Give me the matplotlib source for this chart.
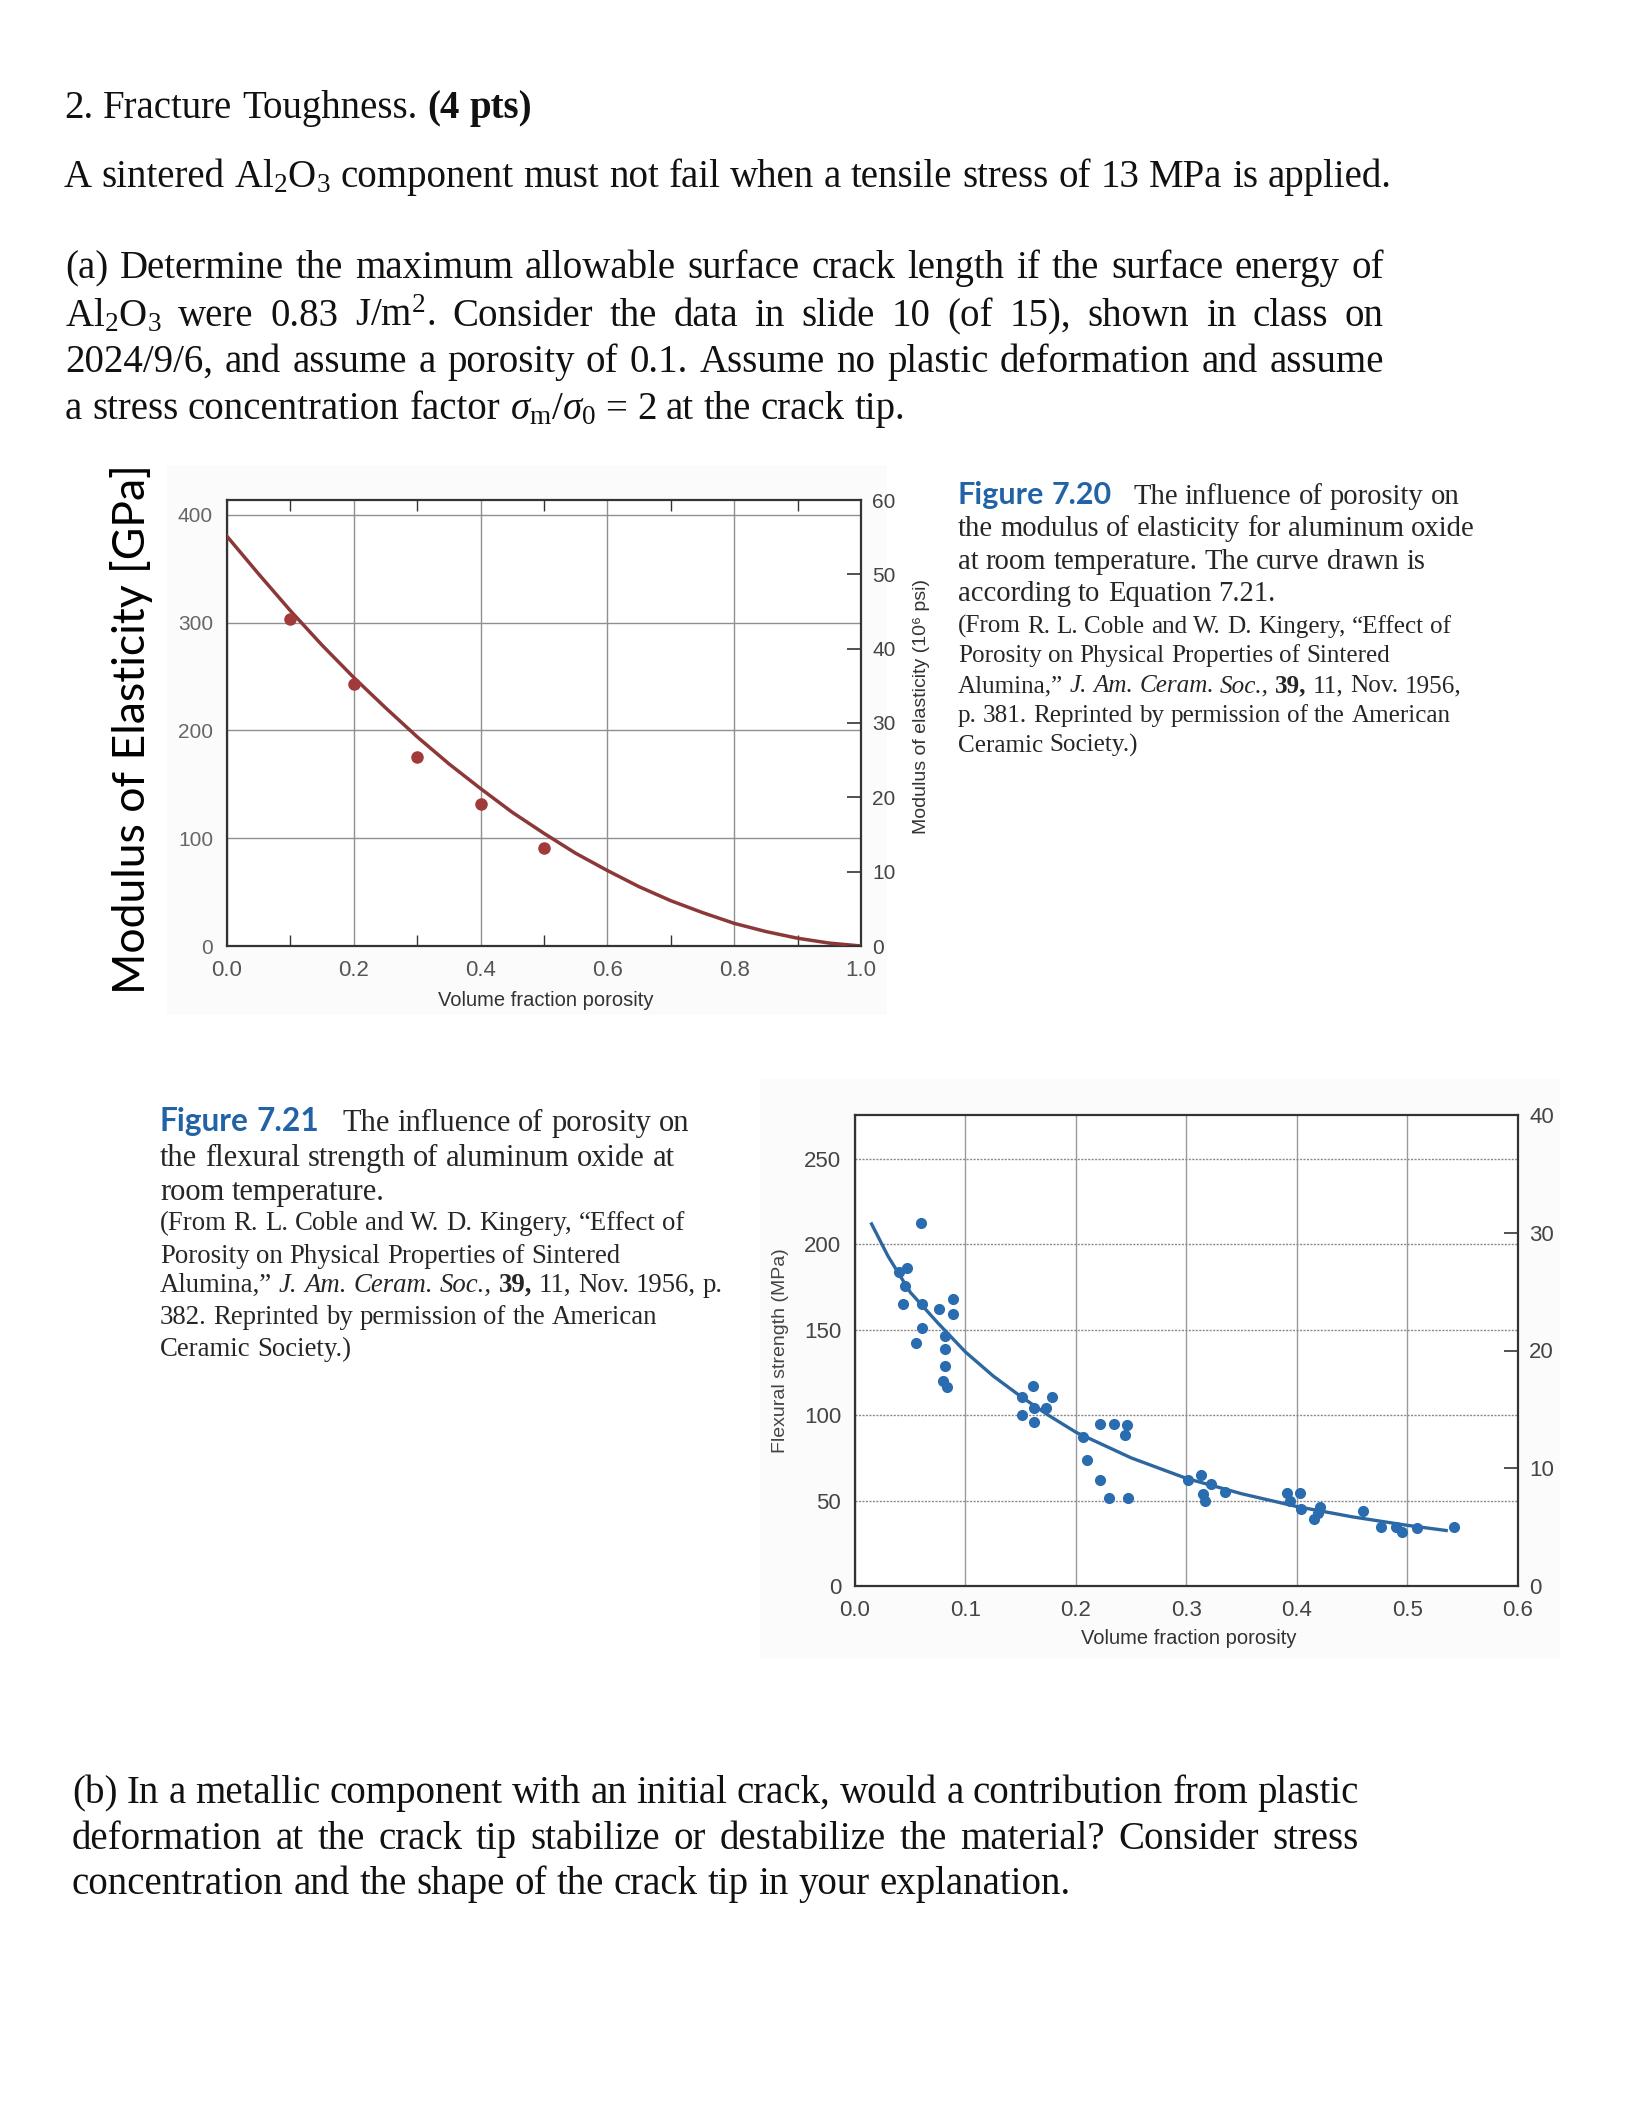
import numpy as np
import matplotlib
matplotlib.use("Agg")
import matplotlib.pyplot as plt

plt.rcParams['font.family'] = ['Liberation Sans', 'DejaVu Sans']
plt.rcParams['mathtext.fontset'] = 'custom'
plt.rcParams['mathtext.rm'] = 'Liberation Serif'
plt.rcParams['mathtext.it'] = 'Liberation Serif:italic'
plt.rcParams['mathtext.bf'] = 'Liberation Serif:bold'

# --- data ---
# Fig 7.20: modulus of elasticity vs porosity
e_porosity = [0.1, 0.2, 0.3, 0.4, 0.5]
e_modulus = [303, 243, 175, 132, 91]
e_curve_p = [0.0, 0.05, 0.1, 0.15, 0.2, 0.25, 0.3, 0.35, 0.4, 0.45, 0.5,
             0.55, 0.6, 0.65, 0.7, 0.75, 0.8, 0.85, 0.9, 0.95, 1.0]
e_curve_v = [380, 345, 311, 279, 249, 221, 194, 169, 146, 124, 104.5,
             86, 70, 55, 42, 31, 21, 13.4, 7.2, 2.7, 0]

# Fig 7.21: flexural strength vs porosity
s_porosity = [0.060, 0.040, 0.047, 0.045, 0.043, 0.061, 0.061, 0.055, 0.076, 0.089,
              0.089, 0.081, 0.081, 0.081, 0.080, 0.083, 0.151, 0.161, 0.178, 0.162,
              0.173, 0.151, 0.162, 0.206, 0.222, 0.234, 0.246, 0.244, 0.210, 0.222,
              0.230, 0.247, 0.301, 0.313, 0.322, 0.315, 0.317, 0.335, 0.391, 0.403,
              0.394, 0.404, 0.421, 0.419, 0.415, 0.460, 0.476, 0.490, 0.495, 0.509,
              0.542]
s_strength = [212.7, 184, 186, 175.5, 165, 165, 151, 142, 162, 168,
              159, 146.5, 139, 129, 120, 116.5, 110.7, 117, 110.5, 104.5,
              104.5, 100.4, 96, 87.5, 95, 95, 94.4, 88.2, 73.7, 62,
              51.4, 51.4, 62, 64.8, 60, 53.7, 49.7, 55, 54.6, 54.6,
              49.9, 45.2, 46.3, 43, 39.2, 44, 34.5, 34.5, 31.8, 33.9,
              34.5]
s_curve_p = [0.015, 0.03, 0.05, 0.075, 0.1, 0.125, 0.15, 0.175, 0.2, 0.25,
             0.3, 0.35, 0.4, 0.45, 0.5, 0.535]
s_curve_v = [212, 193, 172, 154, 137, 123, 111, 100, 90, 75,
             63, 54, 46.5, 40.5, 35.5, 32.5]

# --- page text ---
title_line = "2. Fracture Toughness. *(4 *pts)"
intro_line = "A sintered Al$_2$O$_3$ component must not fail when a tensile stress of 13 MPa is applied."
part_a = ["(a) Determine the maximum allowable surface crack length if the surface energy of",
          "Al$_2$O$_3$ were 0.83 J/m$^2$. Consider the data in slide 10 (of 15), shown in class on",
          "2024/9/6, and assume a porosity of 0.1. Assume no plastic deformation and assume",
          r"a stress concentration factor $\sigma_\mathrm{m}/\sigma_0$ = 2 at the crack tip."]
part_b = ["(b) In a metallic component with an initial crack, would a contribution from plastic",
          "deformation at the crack tip stabilize or destabilize the material? Consider stress",
          "concentration and the shape of the crack tip in your explanation."]
cap_720 = ["#Figure #7.20 ~ The influence of porosity on",
           "the modulus of elasticity for aluminum oxide",
           "at room temperature. The curve drawn is",
           "according to Equation 7.21.",
           "(From R. L. Coble and W. D. Kingery, \u201cEffect of",
           "Porosity on Physical Properties of Sintered",
           "Alumina,\u201d _J. _Am. _Ceram. _Soc., *39, 11, Nov. 1956,",
           "p. 381. Reprinted by permission of the American",
           "Ceramic Society.)"]
cap_721 = ["#Figure #7.21 ~ The influence of porosity on",
           "the flexural strength of aluminum oxide at",
           "room temperature.",
           "(From R. L. Coble and W. D. Kingery, \u201cEffect of",
           "Porosity on Physical Properties of Sintered",
           "Alumina,\u201d _J. _Am. _Ceram. _Soc., *39, 11, Nov. 1956, p.",
           "382. Reprinted by permission of the American",
           "Ceramic Society.)"]

W, H = 1640, 2128
fig = plt.figure(figsize=(W / 100, H / 100), dpi=100, facecolor='white')
bg = fig.add_axes([0, 0, 1, 1], zorder=-1)
bg.axis('off')
rend = fig.canvas.get_renderer()

# scanned picture backgrounds
bg.add_patch(plt.Rectangle((167, 465), 720, 550, color='#fbfbfb', lw=0))
bg.imshow(np.linspace(0.85, 0.975, 50)[None, :], extent=[167, 215, 1015, 465],
          cmap='gray', vmin=0, vmax=1, aspect='auto')
bg.add_patch(plt.Rectangle((760, 1079), 800, 580, color='#fbfbfb', lw=0))
bg.imshow(np.linspace(0.98, 0.9, 30)[None, :], extent=[1530, 1560, 1659, 1079],
          cmap='gray', vmin=0, vmax=1, aspect='auto')
bg.set_xlim(0, W)
bg.set_ylim(H, 0)

BLUE = '#2263a8'


def put_line(line, x, y, size, right=None, color='#111111', label_size=None):
    items = []
    extra = 0
    for w in line.split(' '):
        if w == '~':
            extra += 0.5 * size * 100 / 72
            continue
        kw = dict(family=['Liberation Serif', 'DejaVu Serif'], size=size, color=color)
        if w[0] == '*':
            w = w[1:]
            kw['weight'] = 'bold'
        elif w[0] == '_':
            w = w[1:]
            kw['style'] = 'italic'
        elif w[0] == '#':
            w = w[1:]
            kw.update(family='Lato', weight='bold', color=BLUE, size=label_size or size)
        t = bg.text(0, y, w, va='baseline', ha='left', **kw)
        items.append((t, t.get_window_extent(rend).width, extra))
        extra = 0
    gap = 0.25 * size * 100 / 72
    if right is not None and len(items) > 1:
        used = sum(i[1] + i[2] for i in items)
        gap = (right - x - used) / (len(items) - 1)
    pos = x
    for t, wd, ex in items:
        pos += ex
        t.set_x(pos)
        pos += wd + gap


# heading and questions
BODY = 28
put_line(title_line, 64, 118, BODY)
put_line(intro_line, 64, 187, BODY)
a_y = [278, 326, 372, 419]
for i, ln in enumerate(part_a):
    put_line(ln, 65, a_y[i], BODY, right=1384 if i < 3 else None)
b_y = [1803, 1849, 1894]
for i, ln in enumerate(part_b):
    put_line(ln, 72, b_y[i], BODY, right=1359 if i < 2 else None)

# captions
c1_y = [504, 536, 569, 601, 633, 662, 692, 722, 752]
for i, ln in enumerate(cap_720):
    put_line(ln, 958, c1_y[i], 20.6 if i < 4 else 18.1, color='#262626', label_size=22)
c2_y = [1131, 1166, 1200, 1230, 1263, 1292, 1324, 1356]
for i, ln in enumerate(cap_721):
    put_line(ln, 160, c2_y[i], 22 if i < 3 else 19.3, color='#262626', label_size=22.8)

# ---------------- Figure 7.20 ----------------
ax1 = fig.add_axes([227 / W, 1 - 946 / H, 634 / W, 446 / H], zorder=2)
ax1.plot(e_curve_p, e_curve_v, color='#8c3838', lw=2.5, zorder=3)
ax1.plot(e_porosity, e_modulus, 'o', color='#a23a3a', ms=8, zorder=4)
ax1.set_xlim(0, 1)
ax1.set_ylim(0, 60 * 6.895)
ax1.set_xticks([0, 0.2, 0.4, 0.6, 0.8, 1.0])
ax1.set_xticklabels(['0.0', '0.2', '0.4', '0.6', '0.8', '1.0'])
ax1.set_xticks([0.1, 0.3, 0.5, 0.7, 0.9], minor=True)
ax1.set_yticks([0, 100, 200, 300, 400])
ax1.set_axisbelow(True)
ax1.grid(True, which='major', color='#8f8f8f', lw=1.0)
ax1.tick_params(axis='both', which='major', length=0, pad=10)
ax1.tick_params(axis='x', labelsize=16, labelcolor='#555555')
ax1.tick_params(axis='y', labelsize=15, labelcolor='#666666')
ax1.tick_params(axis='x', which='minor', direction='in', length=8, width=1,
                top=True, color='#333333')
for s in ax1.spines.values():
    s.set_color('#333333')
    s.set_linewidth(1.6)
ax1r = ax1.twinx()
ax1r.set_ylim(0, 60)
ax1r.set_yticks([0, 10, 20, 30, 40, 50, 60])
ax1r.tick_params(direction='in', length=10, width=1.2, labelsize=15,
                 labelcolor='#444444', pad=8, color='#333333')
for s in ax1r.spines.values():
    s.set_visible(False)

bg.text(132, 729, 'Modulus of Elasticity [GPa]', rotation=90, ha='center',
        va='center', family='Lato', size=32, color='black')
bg.text(546, 1000, 'Volume fraction porosity', ha='center', va='center',
        size=14.5, color='#333333')
bg.text(922, 706, 'Modulus of elasticity (10\u2076 psi)', rotation=90,
        ha='center', va='center', size=14, color='#333333')

# ---------------- Figure 7.21 ----------------
ax2 = fig.add_axes([855 / W, 1 - 1586 / H, 663 / W, 471 / H], zorder=2)
ax2.plot(s_curve_p, s_curve_v, color='#2e67a0', lw=2.4, zorder=3)
ax2.plot(s_porosity, s_strength, 'o', color='#2a6cb0', ms=7, zorder=4)
ax2.set_xlim(0, 0.6)
ax2.set_ylim(0, 40 * 6.895)
ax2.set_xticks([0, 0.1, 0.2, 0.3, 0.4, 0.5, 0.6])
ax2.set_xticklabels(['0.0', '0.1', '0.2', '0.3', '0.4', '0.5', '0.6'])
ax2.set_yticks([0, 50, 100, 150, 200, 250])
ax2.set_axisbelow(True)
ax2.xaxis.grid(True, color='#9a9a9a', lw=1.0)
ax2.yaxis.grid(True, color='#8a8a8a', lw=1.0, ls=(0, (1.5, 1)))
ax2.tick_params(axis='both', length=0, pad=10, labelsize=16, labelcolor='#444444')
for s in ax2.spines.values():
    s.set_color('#333333')
    s.set_linewidth(1.6)
ax2r = ax2.twinx()
ax2r.set_ylim(0, 40)
ax2r.set_yticks([0, 10, 20, 30, 40])
ax2r.tick_params(direction='in', length=10, width=1.2, labelsize=16,
                 labelcolor='#444444', pad=8, color='#333333')
for s in ax2r.spines.values():
    s.set_visible(False)

bg.text(781, 1351, 'Flexural strength (MPa)', rotation=90, ha='center',
        va='center', size=14, color='#444444')
bg.text(1189, 1639, 'Volume fraction porosity', ha='center', va='center',
        size=14.5, color='#333333')

fig.savefig('out.png', dpi=100)
